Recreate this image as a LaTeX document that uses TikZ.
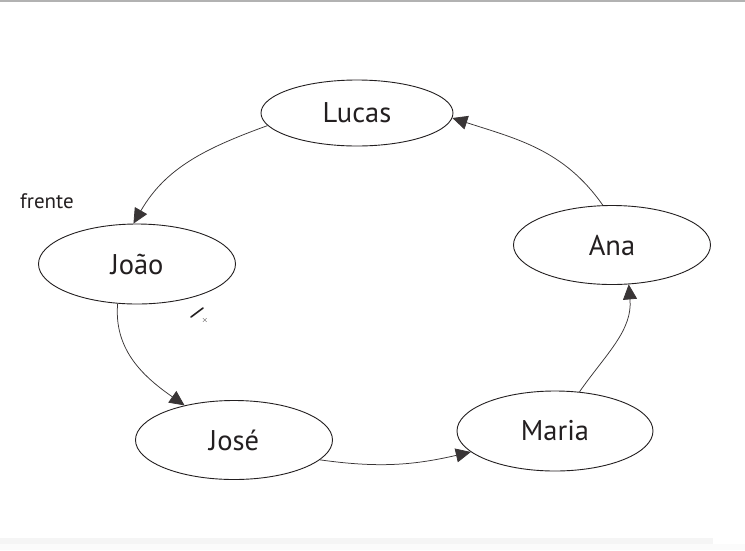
\documentclass[tikz,border=0pt]{standalone}
\usepackage{fontspec}
\setmainfont{PT Sans}
\usetikzlibrary{arrows.meta,shapes.geometric}
\definecolor{ink}{HTML}{231F20}
\tikzset{
  person/.style={draw=ink, line width=0.9pt, ellipse, inner sep=0pt, text=ink, font=\fontsize{28.5}{32}\selectfont},
  link/.style={draw=ink!90, line width=0.75pt, -{Triangle[length=15pt,width=14pt]}},
}
\begin{document}
\begin{tikzpicture}[x=1pt,y=-1pt]
\useasboundingbox (0,0) rectangle (745,550);
\fill[white] (0,0) rectangle (745,550);
\fill[black!30] (0,0) rectangle (745,2);
\fill[black!4] (0,537.5) rectangle (713,543.5);
\fill[black!1.5] (0,543.5) rectangle (745,550);
\node[person, minimum width=192pt, minimum height=66pt] (lucas) at (357,113) {Lucas};
\node[person, minimum width=197pt, minimum height=80pt] (joao) at (137,264) {João};
\node[person, minimum width=197pt, minimum height=79pt] (ana) at (612,245) {Ana};
\node[person, minimum width=196pt, minimum height=80pt] (maria) at (555,431) {Maria};
\node[person, minimum width=197pt, minimum height=79pt] (jose) at (234,440) {José};
\node[text=ink, font=\fontsize{21}{24}\selectfont, inner sep=0pt] (frente) at (47,201) {frente};
\draw[link] (lucas.188) to[out=200, in=60] (joao.95);
\draw[link] (joao.244) to[out=265, in=145] (jose.145);
\draw[link] (jose.347) to[out=-8, in=193] (maria.194);
\draw[link] (maria.58) to[out=55, in=-85] (ana.293);
\draw[link] (ana.103) to[out=125, in=-18] (lucas.-3);
\coordinate (brushA) at (191,317);
\coordinate (brushB) at (203,308);
\draw[ink, line width=1.6pt, line cap=round] (brushA) -- (brushB);
\node[text=ink, font=\fontsize{8}{9}\selectfont, inner sep=0pt] (brushx) at (205,320) {$\times$};
\end{tikzpicture}
\end{document}
